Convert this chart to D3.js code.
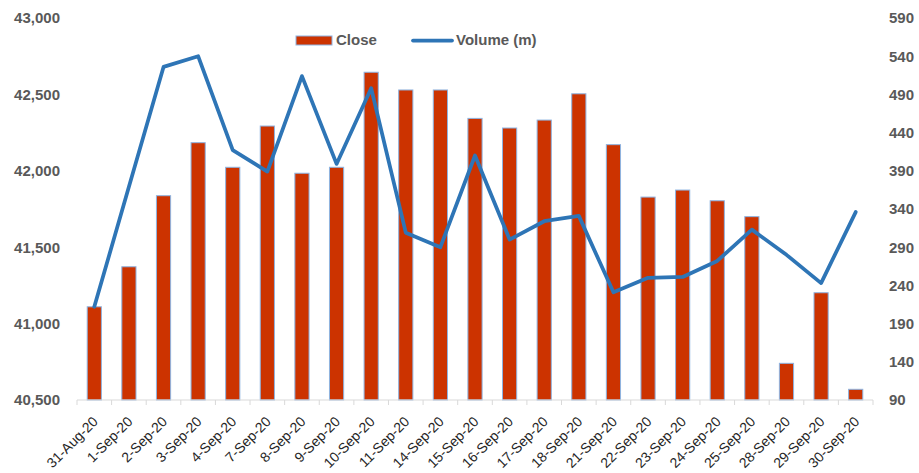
<!DOCTYPE html>
<html>
<head>
<meta charset="utf-8">
<script src="https://cdn.jsdelivr.net/npm/d3@7"></script>
<style>
  html, body { margin: 0; padding: 0; background: #fff; }
  svg { display: block; }
</style>
</head>
<body>
<svg id="chart" width="919" height="473"></svg>
<script>
const categories = ["31-Aug-20","1-Sep-20","2-Sep-20","3-Sep-20","4-Sep-20","7-Sep-20","8-Sep-20","9-Sep-20","10-Sep-20","11-Sep-20","14-Sep-20","15-Sep-20","16-Sep-20","17-Sep-20","18-Sep-20","21-Sep-20","22-Sep-20","23-Sep-20","24-Sep-20","25-Sep-20","28-Sep-20","29-Sep-20","30-Sep-20"];
const closeValues = [41110, 41372, 41837, 42184, 42023, 42293, 41984, 42023, 42645, 42529, 42529, 42343, 42280, 42332, 42504, 42171, 41828, 41874, 41804, 41700, 40740, 41202, 40570];
const volumeValues = [212, 369, 526, 540, 417, 389, 514, 399, 498, 309, 290, 410, 300, 324, 331, 231, 250, 251, 272, 313, 280, 243, 336];
const leftTicks = [40500, 41000, 41500, 42000, 42500, 43000];
const rightTicks = [90, 140, 190, 240, 290, 340, 390, 440, 490, 540, 590];
const seriesNames = ["Close", "Volume (m)"];

(function () {
const svg = d3.select("#chart");
const pL = 77, pR = 873, pT = 18, pB = 400;

const x = d3.scaleBand().domain(categories).range([pL, pR]).paddingInner(0.59).paddingOuter(0.295);
const xb = d3.scaleBand().domain(categories).range([pL, pR]).padding(0);
const yL = d3.scaleLinear().domain([40500, 43000]).range([pB, pT]);
const yR = d3.scaleLinear().domain([90, 590]).range([pB, pT]);

const labelColor = "#595959";
const font = "'Liberation Sans', Arial, sans-serif";

// Bars
svg.append("g").selectAll("rect").data(categories).join("rect")
  .attr("x", (d) => x(d))
  .attr("width", x.bandwidth())
  .attr("y", (d, i) => yL(closeValues[i]))
  .attr("height", (d, i) => pB - yL(closeValues[i]))
  .attr("fill", "#CC3300")
  .attr("stroke", "#8DB4E2")
  .attr("stroke-width", 1);

// X axis
const xAxis = svg.append("g").attr("transform", `translate(0,${pB})`);
xAxis.append("line").attr("x1", pL).attr("x2", pR).attr("y1", 0).attr("y2", 0)
  .attr("stroke", "#D9D9D9").attr("stroke-width", 1);
const tickPos = categories.map(c => xb(c)).concat([pR]);
xAxis.selectAll("line.tk").data(tickPos).join("line").attr("class", "tk")
  .attr("x1", d => d).attr("x2", d => d).attr("y1", 0).attr("y2", 5)
  .attr("stroke", "#D9D9D9").attr("stroke-width", 1);
xAxis.selectAll("text").data(categories).join("text")
  .attr("transform", d => `translate(${x(d) + x.bandwidth() / 2 + 1},${19}) rotate(-45)`)
  .attr("text-anchor", "end")
  .attr("dy", "0.35em")
  .attr("font-family", font)
  .attr("font-size", "14px")
  .attr("fill", "#262626")
  .text(d => d);

// Left axis
const gL = svg.append("g").attr("transform", `translate(${pL},0)`)
  .call(d3.axisLeft(yL).tickValues(leftTicks).tickFormat(d3.format(",")).tickSize(0).tickPadding(17));
gL.select(".domain").remove();
gL.selectAll("text").attr("font-family", font).attr("font-size", "15px").attr("font-weight", "bold").attr("fill", labelColor);

// Right axis
const gR = svg.append("g").attr("transform", `translate(${pR},0)`)
  .call(d3.axisRight(yR).tickValues(rightTicks).tickSize(0).tickPadding(16));
gR.select(".domain").remove();
gR.selectAll("text").attr("font-family", font).attr("font-size", "15px").attr("font-weight", "bold").attr("fill", labelColor);

// Volume line
const line = d3.line()
  .x((d, i) => x(categories[i]) + x.bandwidth() / 2)
  .y(d => yR(d));
svg.append("path").datum(volumeValues)
  .attr("d", line)
  .attr("fill", "none")
  .attr("stroke", "#2E75B6")
  .attr("stroke-width", 3.75)
  .attr("stroke-linejoin", "round")
  .attr("stroke-linecap", "round");

// Legend
const lg = svg.append("g");
lg.append("rect").attr("x", 296).attr("y", 36).attr("width", 36).attr("height", 9)
  .attr("fill", "#CC3300").attr("stroke", "#8DB4E2").attr("stroke-width", 1);
lg.append("text").attr("x", 336).attr("y", 40).attr("dy", "0.35em")
  .attr("font-family", font).attr("font-size", "15px").attr("font-weight", "bold").attr("fill", labelColor)
  .text(seriesNames[0]);
lg.append("line").attr("x1", 413).attr("x2", 452).attr("y1", 40.5).attr("y2", 40.5)
  .attr("stroke", "#2E75B6").attr("stroke-width", 3.75).attr("stroke-linecap", "round");
lg.append("text").attr("x", 456).attr("y", 40).attr("dy", "0.35em")
  .attr("font-family", font).attr("font-size", "15px").attr("font-weight", "bold").attr("fill", labelColor)
  .text(seriesNames[1]);
})();
</script>
</body>
</html>
